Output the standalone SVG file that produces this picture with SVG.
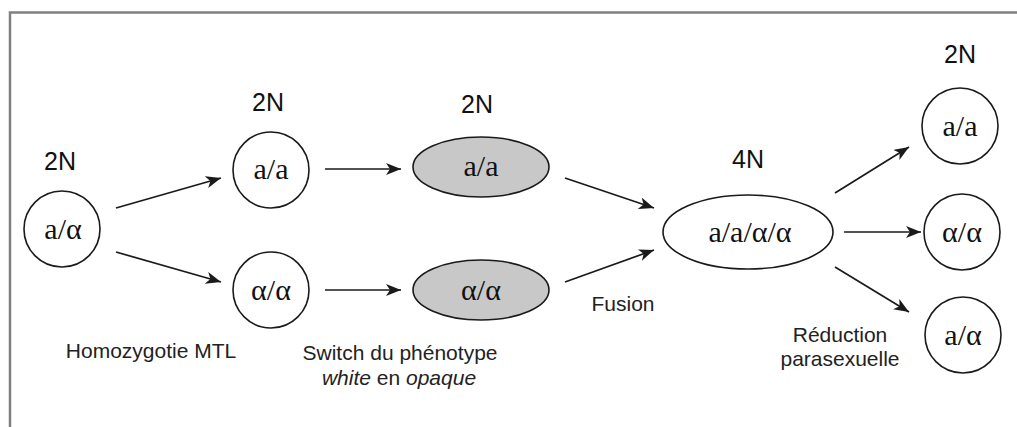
<svg xmlns="http://www.w3.org/2000/svg" width="1017" height="427" viewBox="0 0 1017 427">
<style>
.node{fill:#fff;stroke:#1a1a1a;stroke-width:1.6}
.gray{fill:#c8c8c8;stroke:#1a1a1a;stroke-width:1.6}
.g{font-family:"Liberation Serif","Times New Roman",serif;font-size:30px;fill:#111;text-anchor:middle}
.p{font-family:"Liberation Sans",Arial,sans-serif;font-size:25px;fill:#111;text-anchor:middle}
.l{font-family:"Liberation Sans",Arial,sans-serif;font-size:21px;fill:#222;text-anchor:middle}
.arr{stroke:#1a1a1a;stroke-width:1.7;fill:none;marker-end:url(#ah)}
</style>
<defs>
<marker id="ah" markerUnits="userSpaceOnUse" markerWidth="16" markerHeight="12" refX="15" refY="6" orient="auto">
<path d="M0,0 L15,6 L0,12 L4,6 z" fill="#1a1a1a"/>
</marker>
</defs>
<rect width="1017" height="427" fill="#fff"/>
<g id="frame">
<path d="M10,427 L10,12.5 L1017,12.5" fill="none" stroke="#808080" stroke-width="2.5"/>
</g>
<g id="connectors">
<line class="arr" x1="116" y1="208" x2="221" y2="178"/>
<line class="arr" x1="116" y1="252" x2="221" y2="282"/>
<line class="arr" x1="325" y1="169" x2="401" y2="169"/>
<line class="arr" x1="325" y1="290" x2="401" y2="290"/>
<line class="arr" x1="565" y1="178" x2="654" y2="208"/>
<line class="arr" x1="565" y1="282" x2="654" y2="250"/>
<line class="arr" x1="835" y1="193" x2="909" y2="147"/>
<line class="arr" x1="844" y1="232" x2="921" y2="232"/>
<line class="arr" x1="835" y1="267" x2="909" y2="312"/>
</g>
<g id="n-start">
<text class="p" x="60" y="170">2N</text>
<circle class="node" cx="62" cy="229" r="38"/>
<text class="g" x="63" y="239">a/α</text>
</g>
<g id="n-aa">
<text class="p" x="268" y="111">2N</text>
<circle class="node" cx="271" cy="170" r="38"/>
<text class="g" x="271" y="179">a/a</text>
</g>
<g id="n-alal">
<circle class="node" cx="271" cy="290" r="38"/>
<text class="g" x="271" y="300">α/α</text>
</g>
<g id="n-aa-opaque">
<text class="p" x="477" y="113">2N</text>
<ellipse class="gray" cx="481" cy="167" rx="68" ry="30"/>
<text class="g" x="481" y="176">a/a</text>
</g>
<g id="n-alal-opaque">
<ellipse class="gray" cx="481" cy="290" rx="68" ry="30"/>
<text class="g" x="481" y="300">α/α</text>
</g>
<g id="n-4n">
<text class="p" x="748" y="168">4N</text>
<ellipse class="node" cx="748" cy="232" rx="85" ry="37"/>
<text class="g" x="750" y="242">a/a/α/α</text>
</g>
<g id="n-r-aa">
<text class="p" x="960" y="63">2N</text>
<circle class="node" cx="960" cy="126" r="38"/>
<text class="g" x="960" y="136">a/a</text>
</g>
<g id="n-r-alal">
<circle class="node" cx="962" cy="232" r="38"/>
<text class="g" x="962" y="242">α/α</text>
</g>
<g id="n-r-aal">
<circle class="node" cx="963" cy="335" r="38"/>
<text class="g" x="963" y="345">a/α</text>
</g>
<g id="labels">
<text class="l" x="151" y="358">Homozygotie MTL</text>
<text class="l" x="400" y="360">Switch du phénotype</text>
<text class="l" x="399" y="385"><tspan font-style="italic">white</tspan> en <tspan font-style="italic">opaque</tspan></text>
<text class="l" x="623" y="311">Fusion</text>
<text class="l" x="840" y="342">Réduction</text>
<text class="l" x="840" y="366">parasexuelle</text>
</g>
</svg>
